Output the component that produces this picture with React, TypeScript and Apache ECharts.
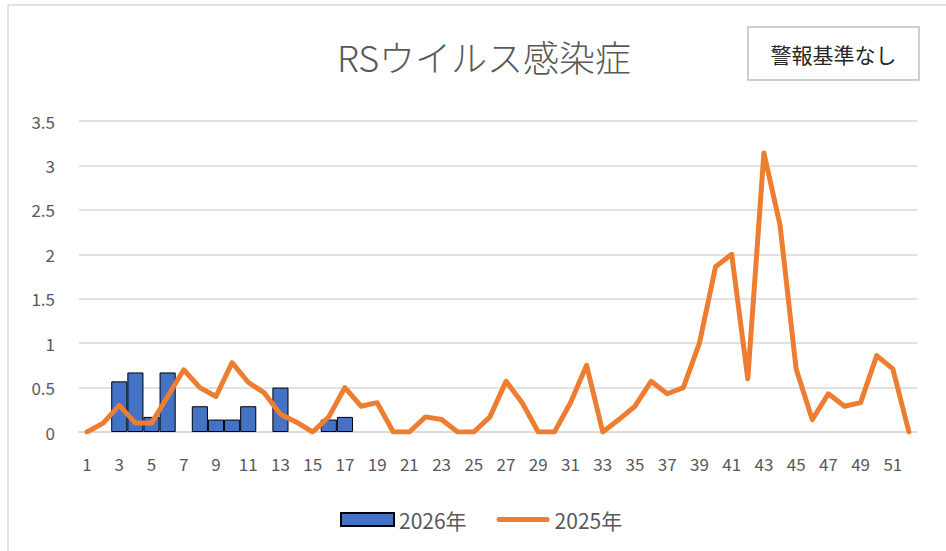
import React, { useEffect, useRef } from "react";
import * as echarts from "echarts";

const weeks: string[] = Array.from({ length: 52 }, (_, i) => String(i + 1));
const series2026: (number | null)[] = [
  null, null, 0.57, 0.67, 0.17, 0.67, null, 0.29, 0.14, 0.14,
  0.29, null, 0.5, null, null, 0.14, 0.17, null, null, null,
  null, null, null, null, null, null, null, null, null, null,
  null, null, null, null, null, null, null, null, null, null,
  null, null, null, null, null, null, null, null, null, null,
  null, null,
];
const series2025: number[] = [
  0, 0.1, 0.3, 0.1, 0.1, 0.4, 0.7, 0.5, 0.4, 0.78,
  0.56, 0.44, 0.2, 0.11, 0, 0.17, 0.5, 0.29, 0.33, 0,
  0, 0.17, 0.14, 0, 0, 0.17, 0.57, 0.33, 0, 0,
  0.33, 0.75, 0, 0.14, 0.29, 0.57, 0.43, 0.5, 1.0, 1.86,
  2.0, 0.6, 3.14, 2.33, 0.71, 0.14, 0.43, 0.29, 0.33, 0.86,
  0.71, 0,
];
const titleText = "RSウイルス感染症";
const noteText = "警報基準なし";
const legendNames = ["2026年", "2025年"];

const FONT = "'Noto Sans CJK JP', 'Noto Sans', sans-serif";

export default function App() {
  const ref = useRef<HTMLDivElement>(null);
  useEffect(() => {
    if (!ref.current) return;
    const chart = echarts.init(ref.current, undefined, { renderer: "svg" });
    chart.setOption({
      animation: false,
      backgroundColor: "#ffffff",
      textStyle: { fontFamily: FONT },
      title: {
        text: titleText,
        left: 479,
        textAlign: "center",
        top: 33,
        textStyle: { fontSize: 36, fontWeight: 300, color: "#595959", fontFamily: FONT },
      },
      legend: {
        bottom: 16,
        left: 335,
        itemWidth: 53,
        itemHeight: 13,
        itemGap: 30,
        textStyle: { fontSize: 21, color: "#595959", fontFamily: FONT },
        data: [
          { name: legendNames[0], icon: "rect" },
          {
            name: legendNames[1],
            icon: "path://M2.5,0 H50.5 A2.5,2.5 0 0 1 50.5,5 H2.5 A2.5,2.5 0 0 1 2.5,0 Z",
          },
        ],
      },
      graphic: [
        {
          type: "line",
          shape: { x1: 8, y1: 5, x2: 946, y2: 5 },
          style: { stroke: "#d9d9d9", lineWidth: 1.5 },
        },
        {
          type: "line",
          shape: { x1: 8, y1: 5, x2: 8, y2: 551 },
          style: { stroke: "#d9d9d9", lineWidth: 1.5 },
        },
        {
          type: "rect",
          shape: { x: 748, y: 27, width: 171, height: 53 },
          style: { fill: "#ffffff", stroke: "#bfbfbf", lineWidth: 1.5 },
        },
        {
          type: "text",
          x: 833.5,
          y: 54,
          style: {
            text: noteText,
            fontSize: 21,
            fill: "#262626",
            align: "center",
            verticalAlign: "middle",
            fontFamily: FONT,
          },
        },
      ],
      grid: { left: 79, right: 29, top: 121, bottom: 119, containLabel: false },
      xAxis: {
        type: "category",
        data: weeks,
        boundaryGap: true,
        axisLine: { show: true, lineStyle: { color: "#d9d9d9", width: 1.5 } },
        axisTick: { show: false },
        axisLabel: { interval: 1, fontSize: 17, color: "#595959", margin: 23, fontFamily: FONT },
      },
      yAxis: {
        type: "value",
        min: 0,
        max: 3.5,
        interval: 0.5,
        axisLine: { show: false },
        axisTick: { show: false },
        splitLine: { lineStyle: { color: "#d9d9d9", width: 1.5 } },
        axisLabel: { fontSize: 17, color: "#595959", margin: 24, fontFamily: FONT },
      },
      series: [
        {
          name: legendNames[0],
          type: "bar",
          data: series2026,
          barCategoryGap: "0%",
          itemStyle: { color: "#4472C4", borderColor: "#000000", borderWidth: 1 },
        },
        {
          name: legendNames[1],
          type: "line",
          data: series2025,
          symbol: "none",
          lineStyle: { color: "#ED7D31", width: 5, cap: "round", join: "round" },
          itemStyle: { color: "#ED7D31" },
          z: 3,
        },
      ],
    });
    return () => chart.dispose();
  }, []);
  return (
    <div
      ref={ref}
      style={{ position: "fixed", left: 0, top: 0, width: 946, height: 551 }}
    />
  );
}
